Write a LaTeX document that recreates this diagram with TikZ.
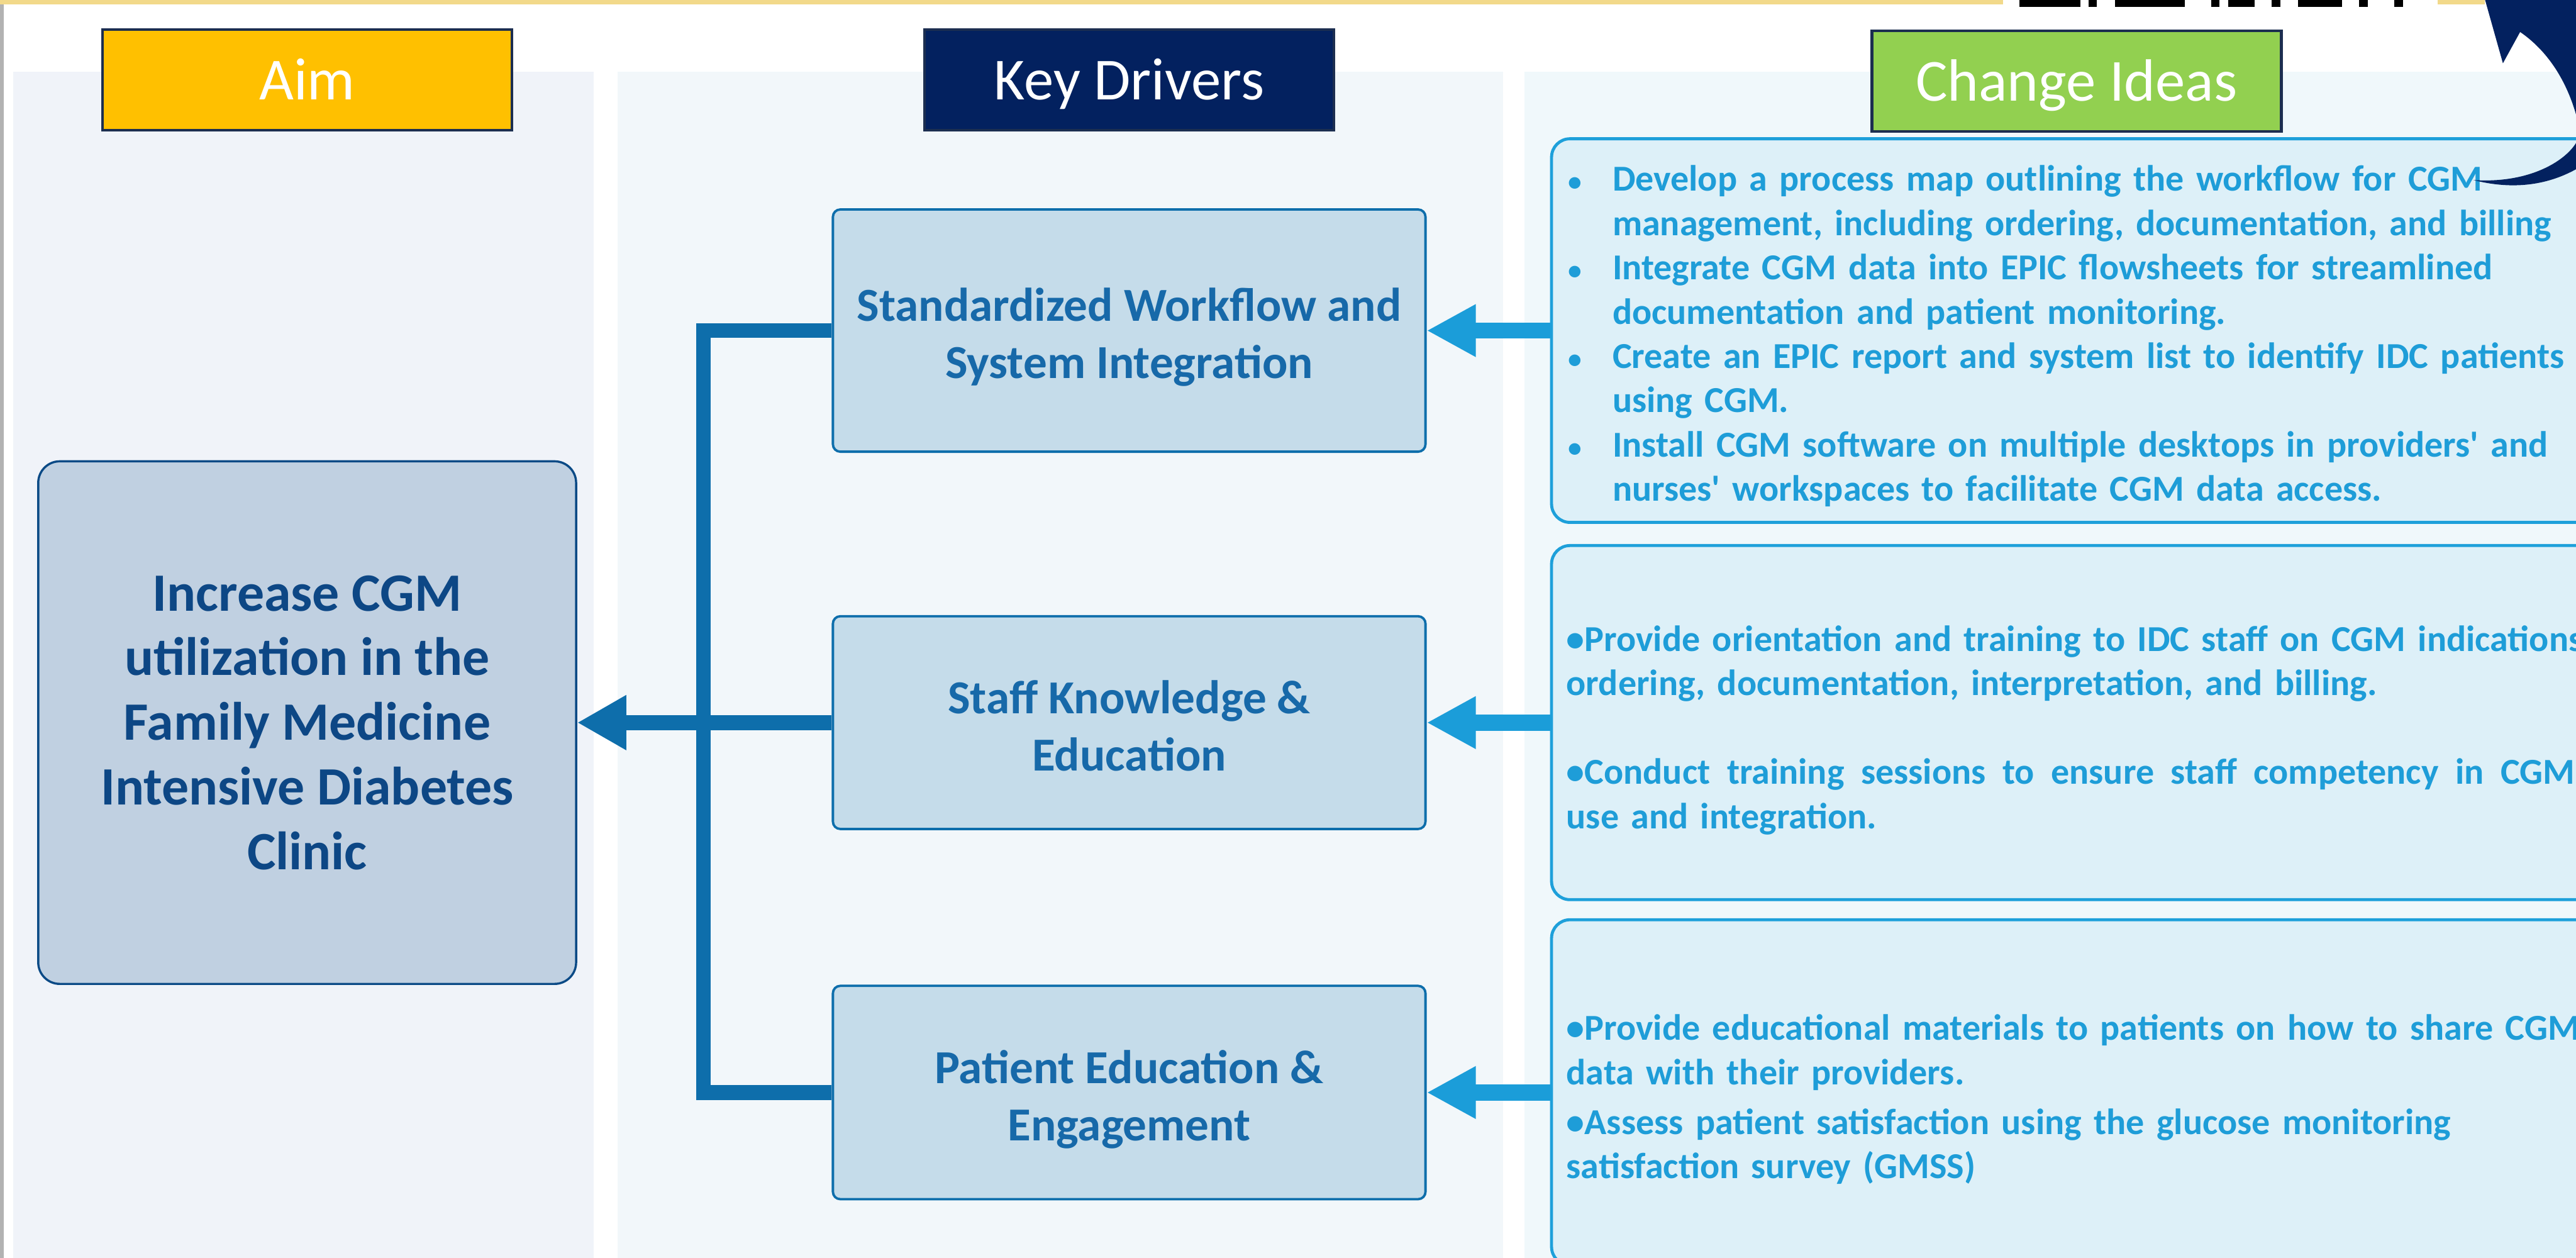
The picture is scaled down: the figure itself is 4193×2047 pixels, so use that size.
\documentclass[tikz,border=0pt]{standalone}
\usepackage{fontspec}
\setmainfont{Carlito}
\usetikzlibrary{arrows.meta}

\definecolor{topgold}{HTML}{F2D98A}
\definecolor{hdline}{HTML}{1C2E50}
\definecolor{aimgold}{HTML}{FFC000}
\definecolor{drvnavy}{HTML}{03215F}
\definecolor{chggreen}{HTML}{92D050}
\definecolor{aimpanel}{HTML}{F0F3F9}
\definecolor{drvpanel}{HTML}{F2F7FA}
\definecolor{chgpanel}{HTML}{F0F8FB}
\definecolor{aimfill}{HTML}{C0D0E1}
\definecolor{aimline}{HTML}{0B4A86}
\definecolor{aimtext}{HTML}{0D4785}
\definecolor{drvfill}{HTML}{C5DCEA}
\definecolor{drvline}{HTML}{0E6EAB}
\definecolor{drvtext}{HTML}{1769A9}
\definecolor{ideafill}{HTML}{DDF0F8}
\definecolor{idealine}{HTML}{1EA0DA}
\definecolor{ideatxt}{HTML}{1E9DD8}
\definecolor{treeblue}{HTML}{0E6EAB}
\definecolor{feedblue}{HTML}{1B9DD9}

\newcommand{\ibul}{\makebox[0.72cm][l]{\scalebox{0.75}{\textbullet}}}
\newcommand{\iind}{\hspace*{0.72cm}}

\tikzset{
  header/.style   = {shape=rectangle, draw=hdline, line width=1.3pt,
                     minimum width=6.66cm, minimum height=1.64cm, inner sep=0pt,
                     text=white, text height=0.64cm, text depth=0pt,
                     font=\fontsize{27.6}{33}\selectfont},
  aimbox/.style   = {shape=rectangle, rounded corners=0.35cm,
                     draw=aimline, fill=aimfill, line width=1pt, align=center,
                     minimum width=8.75cm, minimum height=8.5cm, text=aimtext,
                     font=\bfseries\fontsize{25}{29.9}\selectfont},
  driver/.style   = {shape=rectangle, rounded corners=0.12cm,
                     draw=drvline, fill=drvfill, line width=1.1pt, align=center,
                     minimum width=9.64cm, text=drvtext,
                     text height=1.56cm, text depth=0pt,
                     font=\bfseries\fontsize{21.9}{26.5}\selectfont},
  ideabox/.style  = {shape=rectangle, rounded corners=0.3cm, anchor=west,
                     draw=idealine, fill=ideafill, line width=1.4pt,
                     minimum width=17.4cm},
  ideatext/.style = {anchor=base west, inner sep=0pt, align=left,
                     text width=17cm, text=ideatxt,
                     font=\bfseries\fontsize{16.9}{20.5}\selectfont},
  trunk/.style    = {draw=treeblue, line width=0.24cm},
  feed/.style     = {draw=feedblue, line width=0.26cm,
                     -{Triangle[length=0.8cm, width=0.8cm]}}
}

\begin{document}
\begin{tikzpicture}[x=0.01cm, y=-0.01cm]
\useasboundingbox (0,0) rectangle (4193,2047);

% columns and top rule
\fill[aimpanel] (22,117) rectangle (966,2060);
\fill[drvpanel] (1005,117) rectangle (2447,2060);
\fill[chgpanel] (2481,117) rectangle (4200,2060);
\fill[black!30] (0,0) rectangle (6,2047);
\fill[topgold] (0,0) rectangle (3260,7);
\fill[topgold] (3968,0) rectangle (4045,7);
\foreach \a/\b in {3287/3386, 3400/3413, 3443/3556, 3599/3613, 3627/3670,
                   3698/3712, 3740/3812, 3840/3854, 3897/3911}
  \fill[black] (\a,0) rectangle (\b,11);

% headings
\node[header, fill=aimgold] (hdAim) at (500,130) {Aim};
\node[header, fill=drvnavy] (hdDrivers) at (1838,130) {Key Drivers};
\node[header, fill=chggreen] (hdChange) at (3380,132) {Change Ideas};

% aim and key drivers
\node[aimbox] (aim) at (500,1176) {Increase CGM\\utilization in the\\Family Medicine\\Intensive Diabetes\\Clinic};
\node[driver, minimum height=3.94cm] (drvWork) at (1838,538) {Standardized Workflow and\\System Integration};
\node[driver, minimum height=3.46cm] (drvStaff) at (1838,1176) {Staff Knowledge \&\\Education};
\node[driver, minimum height=3.47cm] (drvPatient) at (1838,1778) {Patient Education \&\\Engagement};

% change ideas
\node[ideabox, minimum height=6.24cm] (chgWork) at (2523,538) {};
\node[ideabox, minimum height=5.76cm] (chgStaff) at (2523,1176) {};
\node[ideabox, minimum height=5.62cm] (chgPatient) at (2523,1778) {};

\node[ideatext] (txtWork) at (2552,311) {%
\ibul Develop a process map outlining the workflow for CGM\\
\iind management, including ordering, documentation, and billing\\
\ibul Integrate CGM data into EPIC flowsheets for streamlined\\
\iind documentation and patient monitoring.\\
\ibul Create an EPIC report and system list to identify IDC patients\\
\iind using CGM.\\
\ibul Install CGM software on multiple desktops in providers\textquotesingle\ and\\
\iind nurses\textquotesingle\ workspaces to facilitate CGM data access.};

\node[ideatext] (txtStaff) at (2549,1060) {%
\textbullet Provide orientation and training to IDC staff on CGM indications,\\
ordering, documentation, interpretation, and billing.\\[20.5pt]
\makebox[16.4cm][l]{\textbullet Conduct\hfill training\hfill sessions\hfill to\hfill ensure\hfill
  staff\hfill competency\hfill in\hfill CGM}\\
use and integration.};

\node[ideatext] (txtPatient) at (2549,1693) {%
\textbullet Provide educational materials to patients on how to share CGM\\
data with their providers.\\[2.5pt]
\textbullet Assess patient satisfaction using the glucose monitoring\\
satisfaction survey (GMSS)};

% connectors
\coordinate (jn) at (1145,1176);
\draw[trunk] (drvWork.west) -| (jn) |- (drvPatient.west);
\draw[trunk, -{Triangle[length=0.8cm, width=0.84cm]}] (drvStaff.west) -- (aim.east);
\draw[feed] (chgWork.west) -- (drvWork.east);
\draw[feed] (chgStaff.west) -- (drvStaff.east);
\draw[feed] (chgPatient.west) -- (drvPatient.east);

% curved arrow running in from the top corner
\fill[drvnavy] (4045,0) -- (4074,103) -- (4102,52)
  .. controls (4150,85) and (4185,140) .. (4200,215)
  .. controls (4195,250) and (4130,300) .. (4026,293)
  .. controls (4100,312) and (4170,300) .. (4230,250)
  -- (4260,0) -- cycle;
\end{tikzpicture}
\end{document}
